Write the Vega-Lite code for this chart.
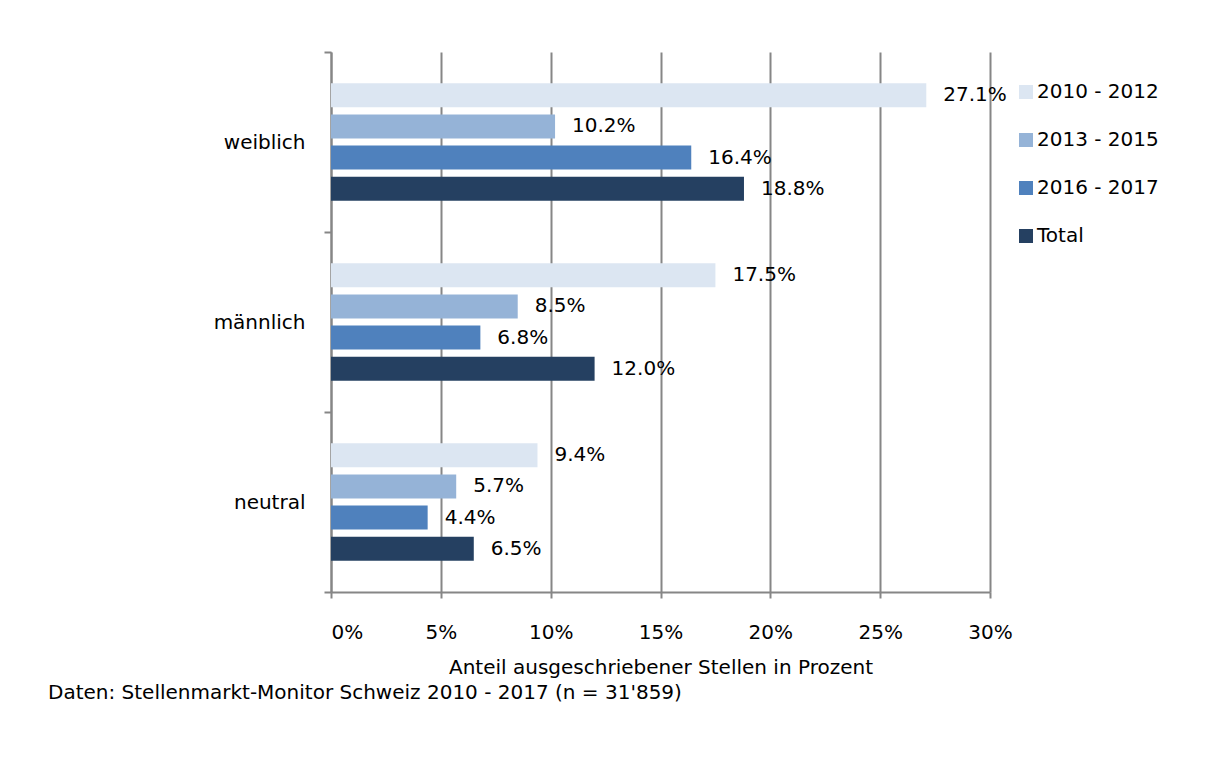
{
  "$schema": "https://vega.github.io/schema/vega-lite/v6.json",
  "autosize": "none",
  "width": 659,
  "height": 540,
  "padding": {"left": 331, "top": 52, "right": 224, "bottom": 168},
  "background": "white",
  "config": {
    "font": "DejaVu Sans",
    "view": {"stroke": null},
    "axis": {"labelColor": "#000000", "titleColor": "#000000", "labelFont": "DejaVu Sans", "titleFont": "DejaVu Sans"},
    "legend": {"labelFont": "DejaVu Sans", "labelColor": "#000000"}
  },
  "title": {
    "text": "Daten: Stellenmarkt-Monitor Schweiz 2010 - 2017 (n = 31'859)",
    "orient": "bottom",
    "anchor": "start",
    "frame": "group",
    "dx": -283,
    "offset": 6,
    "fontSize": 20,
    "fontWeight": "normal",
    "color": "#000000"
  },
  "data": {
    "values": [
      {"gruppe": "weiblich", "periode": "2010 - 2012", "anteil": 0.271},
      {"gruppe": "weiblich", "periode": "2013 - 2015", "anteil": 0.102},
      {"gruppe": "weiblich", "periode": "2016 - 2017", "anteil": 0.164},
      {"gruppe": "weiblich", "periode": "Total", "anteil": 0.188},
      {"gruppe": "männlich", "periode": "2010 - 2012", "anteil": 0.175},
      {"gruppe": "männlich", "periode": "2013 - 2015", "anteil": 0.085},
      {"gruppe": "männlich", "periode": "2016 - 2017", "anteil": 0.068},
      {"gruppe": "männlich", "periode": "Total", "anteil": 0.120},
      {"gruppe": "neutral", "periode": "2010 - 2012", "anteil": 0.094},
      {"gruppe": "neutral", "periode": "2013 - 2015", "anteil": 0.057},
      {"gruppe": "neutral", "periode": "2016 - 2017", "anteil": 0.044},
      {"gruppe": "neutral", "periode": "Total", "anteil": 0.065}
    ]
  },
  "encoding": {
    "y": {
      "field": "gruppe",
      "type": "nominal",
      "sort": ["weiblich", "männlich", "neutral"],
      "scale": {"paddingInner": 0, "paddingOuter": 0},
      "axis": {
        "title": null,
        "tickBand": "extent",
        "domainColor": "#868686",
        "domainWidth": 2,
        "tickColor": "#868686",
        "tickWidth": 2,
        "tickSize": 7,
        "labelFontSize": 20,
        "labelPadding": 19
      }
    },
    "yOffset": {
      "field": "periode",
      "type": "nominal",
      "sort": ["2010 - 2012", "2013 - 2015", "2016 - 2017", "Total"],
      "scale": {"paddingInner": 0.23, "paddingOuter": 1.02}
    },
    "x": {
      "field": "anteil",
      "type": "quantitative",
      "scale": {"domain": [0, 0.3], "nice": false},
      "axis": {
        "title": "Anteil ausgeschriebener Stellen in Prozent",
        "format": ".0%",
        "values": [0, 0.05, 0.1, 0.15, 0.2, 0.25, 0.3],
        "grid": true,
        "gridColor": "#868686",
        "gridWidth": 2,
        "domainColor": "#868686",
        "domainWidth": 2,
        "tickColor": "#868686",
        "tickWidth": 2,
        "tickSize": 6,
        "labelFlush": false,
        "labelAlign": {"condition": {"test": "datum.value == 0", "value": "left"}, "value": "center"},
        "labelFontSize": 20,
        "labelPadding": 24,
        "titleFontSize": 20,
        "titleFontWeight": "normal",
        "titlePadding": 15
      }
    }
  },
  "layer": [
    {
      "mark": {"type": "bar"},
      "encoding": {
        "color": {
          "field": "periode",
          "type": "nominal",
          "sort": ["2010 - 2012", "2013 - 2015", "2016 - 2017", "Total"],
          "scale": {
            "domain": ["2010 - 2012", "2013 - 2015", "2016 - 2017", "Total"],
            "range": ["#dce6f2", "#95b3d7", "#4f81bd", "#254061"]
          },
          "legend": {
            "title": null,
            "orient": "none",
            "legendX": 685,
            "legendY": 30,
            "padding": 0,
            "symbolType": "square",
            "symbolSize": 196,
            "symbolStrokeWidth": 0,
            "labelFontSize": 20,
            "labelOffset": 1,
            "rowPadding": 28
          }
        }
      }
    },
    {
      "mark": {"type": "text", "align": "left", "baseline": "middle", "dx": 17, "fontSize": 20, "color": "#000000"},
      "encoding": {
        "text": {"field": "anteil", "type": "quantitative", "format": ".1%"}
      }
    }
  ]
}
